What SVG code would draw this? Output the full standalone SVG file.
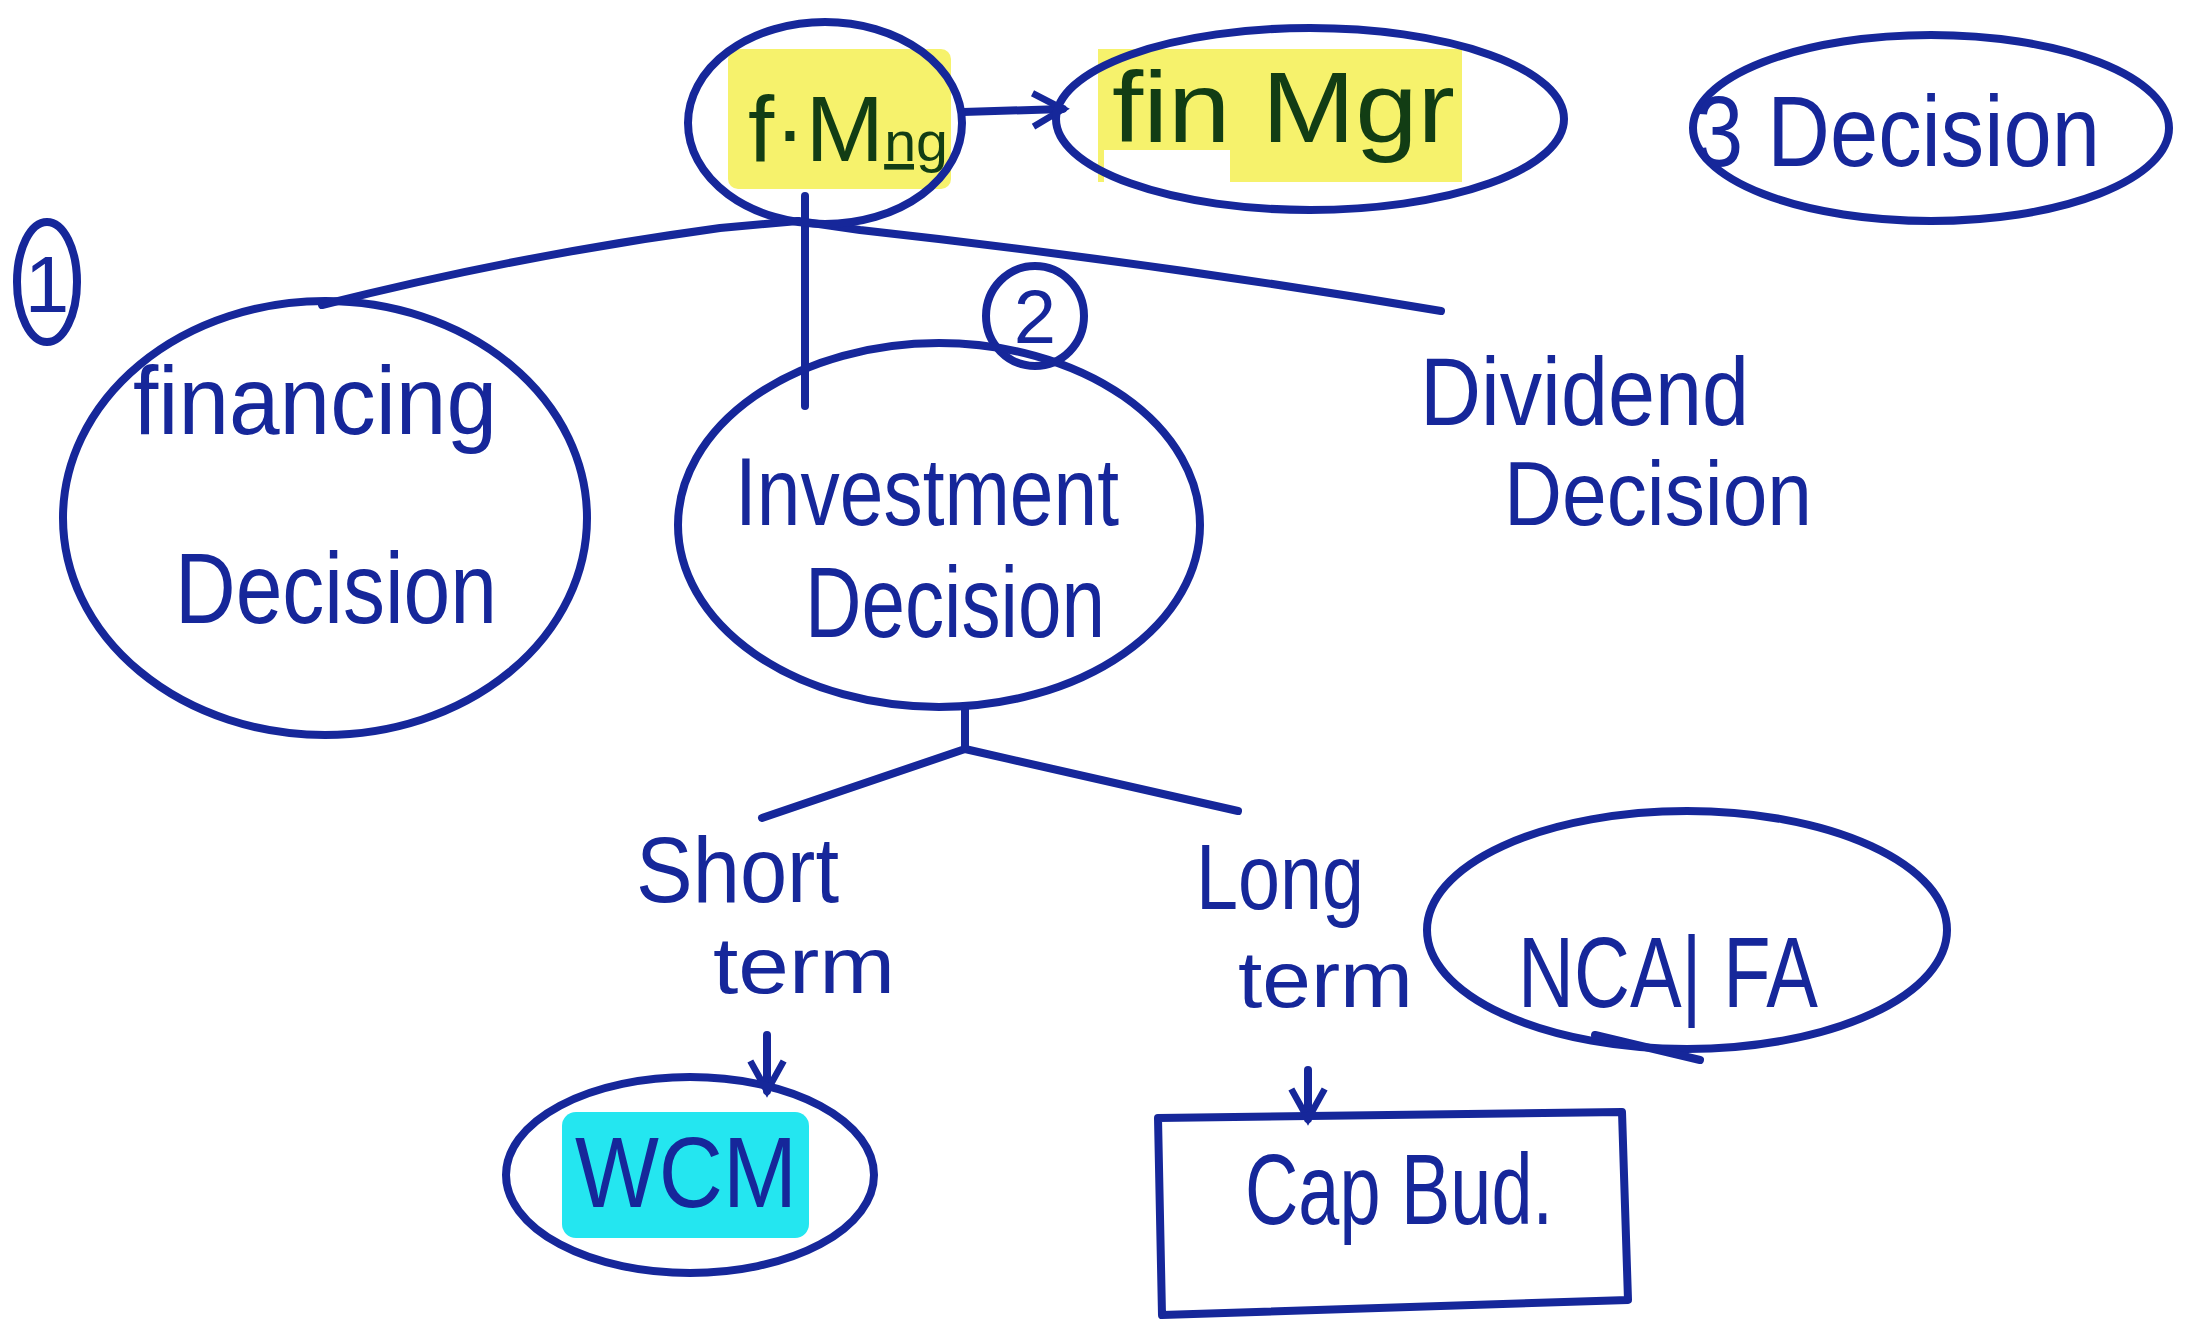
<svg xmlns="http://www.w3.org/2000/svg" width="2194" height="1322" viewBox="0 0 2194 1322">
<defs>
<style>
.ln{fill:none;stroke:#16279a;stroke-width:8;stroke-linecap:round;stroke-linejoin:round}
.t{font-family:"Liberation Sans","DejaVu Sans",sans-serif;fill:#16279a}
.g{font-family:"Liberation Sans","DejaVu Sans",sans-serif;fill:#123d14}
</style>
<marker id="ah" viewBox="0 0 12 12" refX="10" refY="6" markerWidth="5" markerHeight="5" orient="auto" markerUnits="strokeWidth">
<path d="M1,1 L10,6 L1,11" fill="none" stroke="#16279a" stroke-width="2"/>
</marker>
</defs>
<rect width="2194" height="1322" fill="#ffffff"/>

<g id="connectors">
<path class="ln" d="M963,112 L1063,109" marker-end="url(#ah)"/>
<path class="ln" d="M798,221 L720,228 Q520,255 322,305"/>
<path class="ln" d="M805,196 L805,406"/>
<path class="ln" d="M798,221 L860,230 Q1150,262 1441,311"/>
<path class="ln" d="M965,707 L965,749 L762,818"/>
<path class="ln" d="M965,749 L1238,811"/>
<path class="ln" d="M767,1035 L767,1091" marker-end="url(#ah)"/>
<path class="ln" d="M1308,1070 L1308,1119" marker-end="url(#ah)"/>
</g>

<g id="node-fmng">
<rect x="728" y="49" width="223" height="140" rx="10" fill="#f6f26c"/>
<ellipse class="ln" cx="825" cy="123" rx="137" ry="101"/>
<text class="g" x="748" y="161" font-size="92" textLength="200" lengthAdjust="spacingAndGlyphs">f·M<tspan font-size="56" text-decoration="underline">ng</tspan></text>
</g>

<g id="node-finmgr">
<rect x="1098" y="49" width="364" height="133" fill="#f6f26c"/>
<rect x="1104" y="150" width="126" height="34" fill="#ffffff"/>
<ellipse class="ln" cx="1310" cy="119" rx="254" ry="91"/>
<text class="g" x="1112" y="142" font-size="100" textLength="343" lengthAdjust="spacingAndGlyphs">fin Mgr</text>
</g>

<g id="node-3decision">
<ellipse class="ln" cx="1931" cy="128" rx="238" ry="93"/>
<text class="t" x="1695" y="166" font-size="100" textLength="405" lengthAdjust="spacingAndGlyphs">3 Decision</text>
</g>

<g id="node-1">
<ellipse class="ln" cx="47" cy="282" rx="30" ry="60"/>
<text class="t" x="47" y="312" font-size="80" text-anchor="middle">1</text>
</g>

<g id="node-financing">
<ellipse class="ln" cx="325" cy="518" rx="262" ry="217"/>
<text class="t" x="133" y="434" font-size="96" textLength="364" lengthAdjust="spacingAndGlyphs">financing</text>
<text class="t" x="175" y="623" font-size="100" textLength="322" lengthAdjust="spacingAndGlyphs">Decision</text>
</g>

<g id="node-2">
<ellipse class="ln" cx="1035" cy="316" rx="49" ry="50"/>
<text class="t" x="1035" y="343" font-size="76" text-anchor="middle">2</text>
</g>

<g id="node-investment">
<ellipse class="ln" cx="939" cy="525" rx="261" ry="182"/>
<text class="t" x="735" y="525" font-size="96" textLength="384" lengthAdjust="spacingAndGlyphs">Investment</text>
<text class="t" x="805" y="637" font-size="100" textLength="300" lengthAdjust="spacingAndGlyphs">Decision</text>
</g>

<g id="node-dividend">
<text class="t" x="1420" y="425" font-size="96" textLength="329" lengthAdjust="spacingAndGlyphs">Dividend</text>
<text class="t" x="1504" y="525" font-size="90" textLength="308" lengthAdjust="spacingAndGlyphs">Decision</text>
</g>

<g id="node-short">
<text class="t" x="636" y="902" font-size="92" textLength="203" lengthAdjust="spacingAndGlyphs">Short</text>
<text class="t" x="713" y="993" font-size="80" textLength="182" lengthAdjust="spacingAndGlyphs">term</text>
</g>

<g id="node-wcm">
<rect x="562" y="1112" width="247" height="126" rx="14" fill="#24e6f0"/>
<ellipse class="ln" cx="690" cy="1175" rx="184" ry="98"/>
<text class="t" x="575" y="1207" font-size="100" textLength="222" lengthAdjust="spacingAndGlyphs">WCM</text>
</g>

<g id="node-long">
<text class="t" x="1196" y="909" font-size="92" textLength="168" lengthAdjust="spacingAndGlyphs">Long</text>
<text class="t" x="1238" y="1007" font-size="80" textLength="175" lengthAdjust="spacingAndGlyphs">term</text>
</g>

<g id="node-ncafa">
<ellipse class="ln" cx="1687" cy="930" rx="260" ry="119"/>
<text class="t" x="1518" y="1007" font-size="100" textLength="300" lengthAdjust="spacingAndGlyphs">NCA| FA</text>
<path class="ln" d="M1595,1035 L1700,1060"/>
</g>

<g id="node-capbud">
<path class="ln" d="M1158,1118 L1622,1112 L1628,1300 L1162,1315 Z"/>
<text class="t" x="1245" y="1224" font-size="100" textLength="308" lengthAdjust="spacingAndGlyphs">Cap Bud.</text>
</g>
</svg>
